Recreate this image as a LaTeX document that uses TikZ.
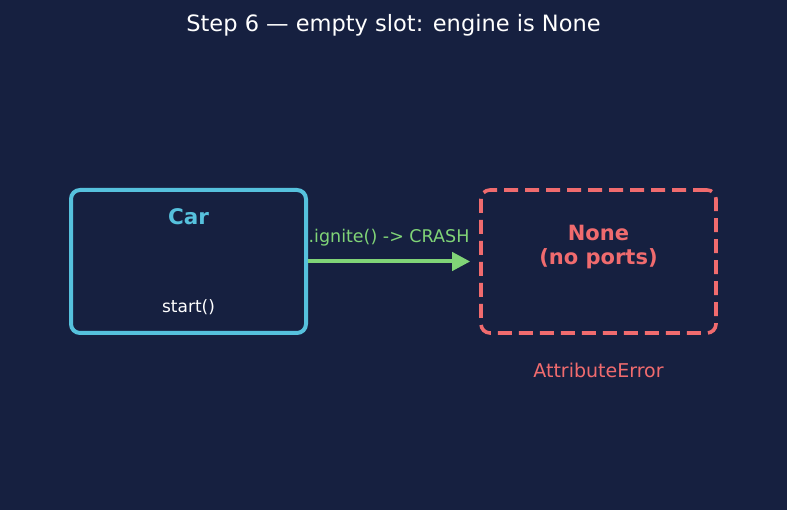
\documentclass[tikz,border=0pt]{standalone}
\usepackage{fontspec}
\setmainfont{DejaVu Sans}
\usepackage{xcolor}
\usetikzlibrary{arrows.meta,positioning}

\definecolor{bgnavy}{HTML}{162040}
\definecolor{carcyan}{HTML}{56C1DD}
\definecolor{nonered}{HTML}{F06B6E}
\definecolor{callgreen}{HTML}{80D477}

\tikzset{
    classbox/.style={draw=carcyan, line width=4pt, rounded corners=9pt,
        minimum width=235pt, minimum height=143pt},
    emptybox/.style={draw=nonered, line width=3.6pt, rounded corners=9pt, dashed,
        dash pattern=on 14pt off 7pt, minimum width=235pt, minimum height=143pt},
    callarrow/.style={-{Stealth[length=18pt,width=18pt,inset=0pt]}, line width=4pt, callgreen}
}

\begin{document}
\begin{tikzpicture}[x=1pt, y=1pt]
    % Background
    \fill[bgnavy] (0,0) rectangle (787,510);
    \useasboundingbox (0,0) rectangle (787,510);

    % Title
    \node[white, font=\fontsize{22.5}{27}\selectfont] (title) at (393.5,485) {Step 6 — empty slot: engine is None};

    % Boxes
    \node[classbox] (car) at (188.5,248.5) {};
    \node[emptybox] (none) at (598.5,248.5) {};

    % Box texts
    \node[carcyan, font=\fontsize{21.5}{26}\selectfont\bfseries] (carname) at (188.5,293) {Car};
    \node[white, font=\fontsize{17}{20}\selectfont] (method) at (188.5,203) {start()};
    \node[nonered, font=\fontsize{21}{24}\selectfont\bfseries, align=center] (nonename) at (598.5,263) {None\\(no ports)};
    \node[nonered, font=\fontsize{19}{23}\selectfont] (error) at (598.5,140) {AttributeError};

    % Call
    \draw[callarrow] (car.east) -- ([xshift=-9pt]none.west);
    \node[callgreen, font=\fontsize{17.5}{21}\selectfont] (call) at (389,272) {.ignite() -> CRASH};

\end{tikzpicture}
\end{document}
